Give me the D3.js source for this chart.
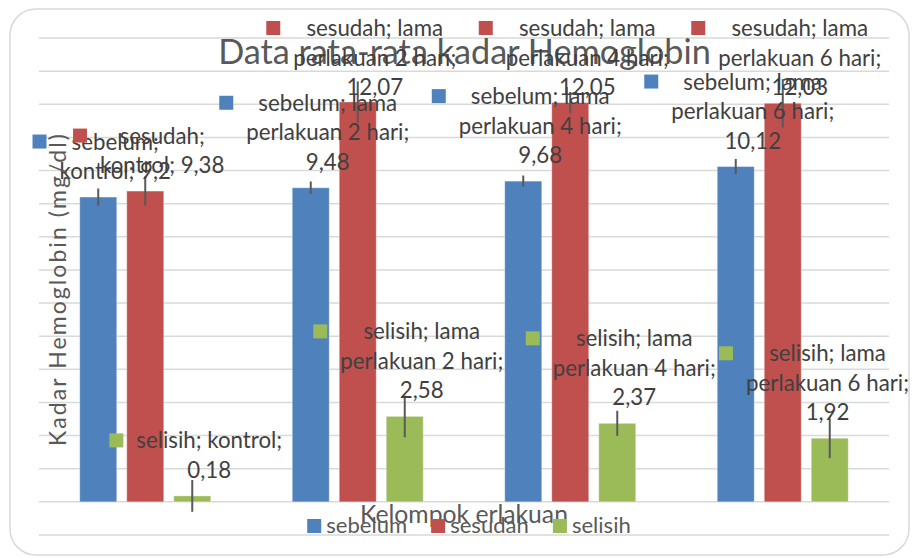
<!DOCTYPE html>
<html><head><meta charset="utf-8">
<script src="https://cdn.jsdelivr.net/npm/d3@7"></script>
<style>html,body{margin:0;padding:0;background:#fff}svg{display:block}</style>
</head><body>
<script>
// ---- data ----
const categories = ["kontrol", "lama perlakuan 2 hari", "lama perlakuan 4 hari", "lama perlakuan 6 hari"];
const seriesNames = ["sebelum", "sesudah", "selisih"];
const sebelum = [9.2, 9.48, 9.68, 10.12];
const sesudah = [9.38, 12.07, 12.05, 12.03];
const selisih = [0.18, 2.58, 2.37, 1.92];
const errSebelum = [0.26, 0.19, 0.17, 0.23];
const errSesudah = [0.44, 0.62, 0.32, 0.73];
const errSelisih = [0.48, 0.63, 0.38, 0.60];
const yDomain = [-1, 14];
const chartTitle = "Data rata-rata kadar Hemoglobin";
const yTitle = "Kadar Hemoglobin (mg/dl)";
const xTitle = "Kelompok erlakuan";

// ---- style ----
const W = 912, H = 558;
const FONT = "Lato, 'Open Sans', sans-serif";
const colors = {sebelum: "#4f81bd", sesudah: "#c0504d", selisih: "#9bbb59"};
const valuesBySeries = {sebelum, sesudah, selisih};
const errBySeries = {sebelum: errSebelum, sesudah: errSesudah, selisih: errSelisih};

const svg = d3.select("body").append("svg").attr("width", W).attr("height", H);

// outer chart border
svg.append("rect").attr("x", 10).attr("y", 9).attr("width", 899).attr("height", 546)
  .attr("rx", 26).attr("ry", 26).attr("fill", "#fff").attr("stroke", "#d9d9d9").attr("stroke-width", 1.5);

const tmp = svg.append("text").attr("font-family", FONT).attr("visibility", "hidden");
function measure(str, size) { tmp.attr("font-size", size).text(str); return tmp.node().getComputedTextLength(); }
function fitSize(str, target) { return 40 * target / measure(str, 40); }

const labelSize = fitSize("perlakuan 2 hari;", 163);
const legendSize = fitSize("sebelum", 81);
const titleSize = fitSize(chartTitle, 493);
const xTitleSize = fitSize(xTitle, 208);

// ---- scales ----
const x0 = d3.scaleBand().domain(categories).range([39, 889]).paddingInner(0).paddingOuter(0);
const x1 = d3.scaleBand().domain(seriesNames).range([0, x0.bandwidth()]).paddingInner(0.213).paddingOuter(0.867);
const y = d3.scaleLinear().domain(yDomain).range([535, 38]);

// gridlines
svg.append("g").selectAll("line").data(y.ticks(15)).join("line")
  .attr("x1", 39).attr("x2", 889)
  .attr("y1", d => y(d)).attr("y2", d => y(d))
  .attr("stroke", "#d9d9d9").attr("stroke-width", 1.5);

// bar records
const bars = [];
seriesNames.forEach(s => categories.forEach((c, i) => {
  bars.push({s, c, v: valuesBySeries[s][i], e: errBySeries[s][i]});
}));

// bars
svg.append("g").selectAll("rect").data(bars).join("rect")
  .attr("x", d => x0(d.c) + x1(d.s))
  .attr("width", x1.bandwidth())
  .attr("y", d => y(Math.max(0, d.v)))
  .attr("height", d => Math.abs(y(d.v) - y(0)))
  .attr("fill", d => colors[d.s])
  .attr("stroke", "rgba(255,255,255,0.35)").attr("stroke-width", 1);

// error bars
svg.append("g").selectAll("line").data(bars).join("line")
  .attr("x1", d => x0(d.c) + x1(d.s) + x1.bandwidth() / 2)
  .attr("x2", d => x0(d.c) + x1(d.s) + x1.bandwidth() / 2)
  .attr("y1", d => y(d.v + d.e)).attr("y2", d => y(d.v - d.e))
  .attr("stroke", "#595959").attr("stroke-width", 2);

// title
svg.append("text").attr("x", 464.5).attr("y", 64).attr("text-anchor", "middle")
  .attr("font-family", FONT).attr("font-size", titleSize).attr("fill", "#595959").text(chartTitle);

// data labels
const fmt = v => String(v).replace(".", ",");
const wrapW = measure("perlakuan 2 hari;", labelSize) * 1.012;
const lh = 29.5;
function wrap(str) {
  const words = str.split(" ");
  const lines = [];
  let cur = "";
  words.forEach(w => {
    const t = cur ? cur + " " + w : w;
    if (cur && measure(t, labelSize) > wrapW) { lines.push(cur); cur = w; } else cur = t;
  });
  if (cur) lines.push(cur);
  return lines;
}
const lg = svg.append("g");
bars.forEach(d => {
  const lines = wrap(`${d.s}; ${d.c}; ${fmt(d.v)}`);
  const maxW = d3.max(lines, l => measure(l, labelSize));
  const bx = x0(d.c) + x1(d.s) + x1.bandwidth() / 2;
  let cx = bx + 17;
  cx = Math.min(cx, 909 - maxW / 2);
  let b1 = y(d.v) - 18 - lh * (lines.length - 1);
  b1 = Math.max(b1, 36);
  lg.append("rect").attr("x", cx - maxW / 2 - 27).attr("y", b1 - 15)
    .attr("width", 14).attr("height", 14).attr("fill", colors[d.s]);
  const t = lg.append("text").attr("font-family", FONT).attr("font-size", labelSize)
    .attr("fill", "#404040").attr("text-anchor", "middle");
  lines.forEach((l, k) => t.append("tspan").attr("x", cx).attr("y", b1 + k * lh).text(l));
});

// y axis title
svg.append("text").attr("transform", "translate(66,290) rotate(-90)")
  .attr("text-anchor", "middle").attr("font-family", FONT).attr("font-size", 23)
  .attr("fill", "#595959").attr("textLength", 312).attr("lengthAdjust", "spacing").text(yTitle);

// x axis title
svg.append("text").attr("x", 464).attr("y", 523).attr("text-anchor", "middle")
  .attr("font-family", FONT).attr("font-size", xTitleSize).attr("fill", "#595959").text(xTitle);

// legend
const items = seriesNames.map(s => ({s, w: measure(s, legendSize)}));
const gapKey = 5, gapItem = 24;
const total = d3.sum(items, it => 14 + gapKey + it.w) + gapItem * (items.length - 1);
let lx = 469 - total / 2;
const leg = svg.append("g");
items.forEach(it => {
  leg.append("rect").attr("x", lx).attr("y", 519).attr("width", 14).attr("height", 14).attr("fill", colors[it.s]);
  leg.append("text").attr("x", lx + 14 + gapKey).attr("y", 533).attr("font-family", FONT)
    .attr("font-size", legendSize).attr("fill", "#595959").text(it.s);
  lx += 14 + gapKey + it.w + gapItem;
});
tmp.remove();
</script>
</body></html>
